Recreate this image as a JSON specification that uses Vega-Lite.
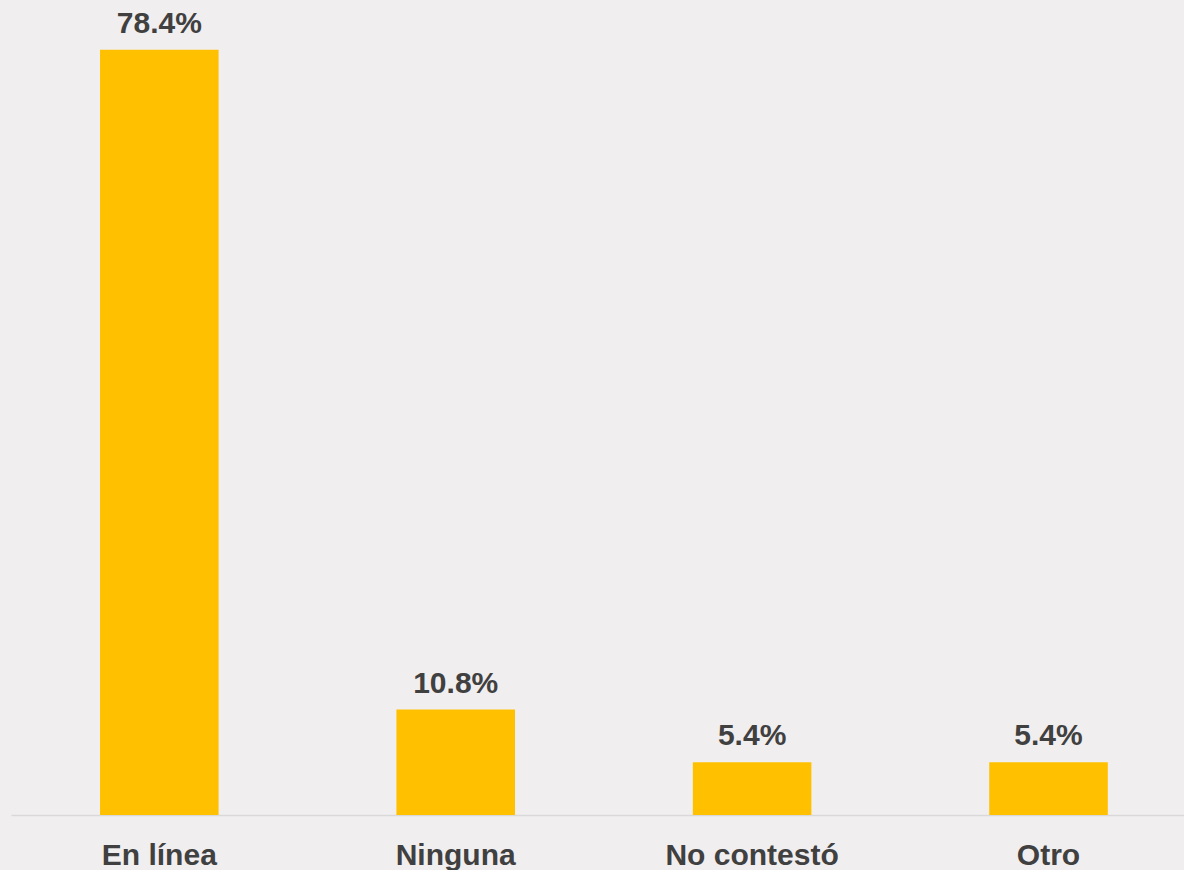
{
  "$schema": "https://vega.github.io/schema/vega-lite/v6.json",
  "width": 1173,
  "height": 815,
  "padding": {"left": 11, "right": 0, "top": 0, "bottom": 0},
  "background": "#F0EEEF",
  "config": {"view": {"stroke": null}, "font": "Liberation Sans"},
  "data": {"values": [
    {"categoria": "En línea", "valor": 78.4, "etiqueta": "78.4%"},
    {"categoria": "Ninguna", "valor": 10.8, "etiqueta": "10.8%"},
    {"categoria": "No contestó", "valor": 5.4, "etiqueta": "5.4%"},
    {"categoria": "Otro", "valor": 5.4, "etiqueta": "5.4%"}
  ]},
  "encoding": {
    "x": {"field": "categoria", "type": "nominal", "sort": null,
      "scale": {"paddingInner": 0.6, "paddingOuter": 0.2787, "align": 0.5388},
      "axis": {"title": null, "labelAngle": 0, "ticks": false, "domainColor": "#D9D9D9", "domainWidth": 1.5,
        "labelFont": "Liberation Sans", "labelFontSize": 30, "labelFontWeight": "bold", "labelColor": "#404040", "labelPadding": 25}},
    "y": {"field": "valor", "type": "quantitative", "scale": {"domain": [0, 83.5], "nice": false}, "axis": null}
  },
  "layer": [
    {"mark": {"type": "bar", "color": "#FFC000"}},
    {"mark": {"type": "text", "baseline": "alphabetic", "dy": -17, "font": "Liberation Sans", "fontSize": 30, "fontWeight": "bold", "color": "#404040"},
     "encoding": {"text": {"field": "etiqueta", "type": "nominal"}}}
  ]
}
